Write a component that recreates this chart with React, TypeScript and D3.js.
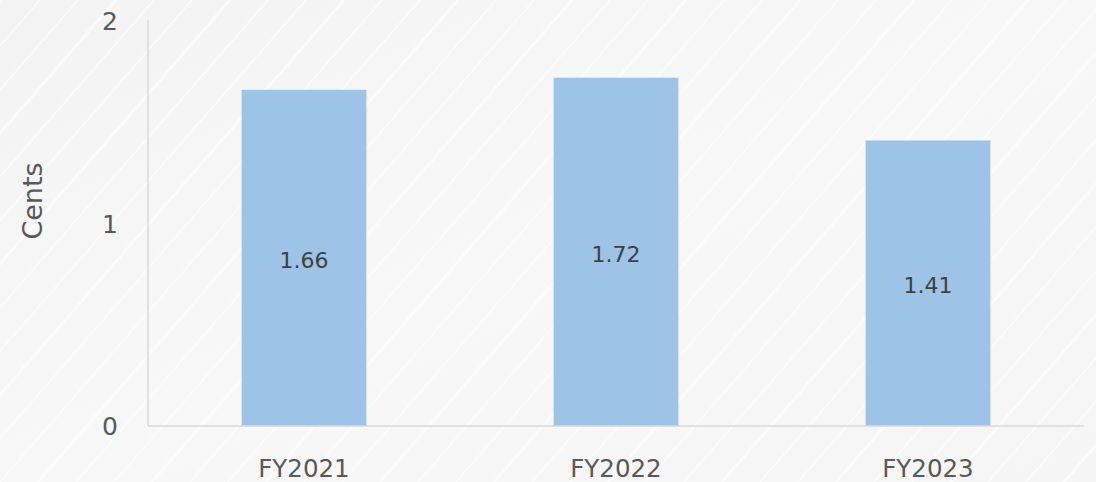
import React from "react";
import * as d3 from "d3";

const categories = ["FY2021", "FY2022", "FY2023"];
const values = [1.66, 1.72, 1.41];
const yTicks = [0, 1, 2];
const yTitle = "Cents";

const W = 1096;
const H = 482;
const M = { left: 148, right: 12, top: 21, bottom: 56 };

export default function App() {
  const x = d3
    .scaleBand<string>()
    .domain(categories)
    .range([M.left, W - M.right])
    .padding(0);
  const y = d3.scaleLinear().domain([0, 2]).range([H - M.bottom, M.top]);
  const barW = x.bandwidth() * 0.4;
  const font = "'DejaVu Sans', 'Noto Sans', sans-serif";

  // faint diagonal streaks in background
  const streaks = d3.range(-20, 40).map((i) => i * 38);

  return (
    <svg
      width={W}
      height={H}
      style={{ position: "fixed", left: 0, top: 0, display: "block" }}
      fontFamily={font}
    >
      <defs>
        <linearGradient id="bg" x1="0" y1="0" x2="1" y2="1">
          <stop offset="0" stopColor="#f3f3f3" />
          <stop offset="0.5" stopColor="#f8f8f8" />
          <stop offset="1" stopColor="#f5f5f5" />
        </linearGradient>
      </defs>
      <rect width={W} height={H} fill="url(#bg)" />
      <g opacity={0.6}>
        {streaks.map((s, i) => (
          <line
            key={i}
            x1={s}
            y1={H}
            x2={s + 420}
            y2={0}
            stroke="#ffffff"
            strokeWidth={i % 3 === 0 ? 3 : 1.5}
          />
        ))}
      </g>
      <line
        x1={M.left}
        x2={M.left}
        y1={M.top - 1}
        y2={y(0)}
        stroke="#d9d9d9"
        strokeWidth={1.5}
      />
      {categories.map((c, i) => (
        <rect
          key={c}
          x={(x(c) as number) + (x.bandwidth() - barW) / 2}
          y={y(values[i])}
          width={barW}
          height={y(0) - y(values[i])}
          fill="#9dc3e6"
        />
      ))}
      <line
        x1={M.left}
        x2={W - M.right}
        y1={y(0)}
        y2={y(0)}
        stroke="#d9d9d9"
        strokeWidth={1.5}
      />
      {yTicks.map((t) => (
        <text
          key={t}
          x={118}
          y={y(t)}
          dy="0.37em"
          textAnchor="end"
          fontSize={25}
          fill="#595959"
        >
          {t}
        </text>
      ))}
      {categories.map((c) => (
        <text
          key={c}
          x={(x(c) as number) + x.bandwidth() / 2}
          y={477}
          textAnchor="middle"
          fontSize={24.5}
          fill="#595959"
        >
          {c}
        </text>
      ))}
      {categories.map((c, i) => (
        <text
          key={c}
          x={(x(c) as number) + x.bandwidth() / 2}
          y={(y(values[i]) + y(0)) / 2}
          dy="0.45em"
          textAnchor="middle"
          fontSize={22}
          fill="#404040"
        >
          {values[i].toFixed(2)}
        </text>
      ))}
      <text
        transform={`translate(42, 201) rotate(-90)`}
        textAnchor="middle"
        fontSize={27}
        fill="#595959"
      >
        {yTitle}
      </text>
    </svg>
  );
}
